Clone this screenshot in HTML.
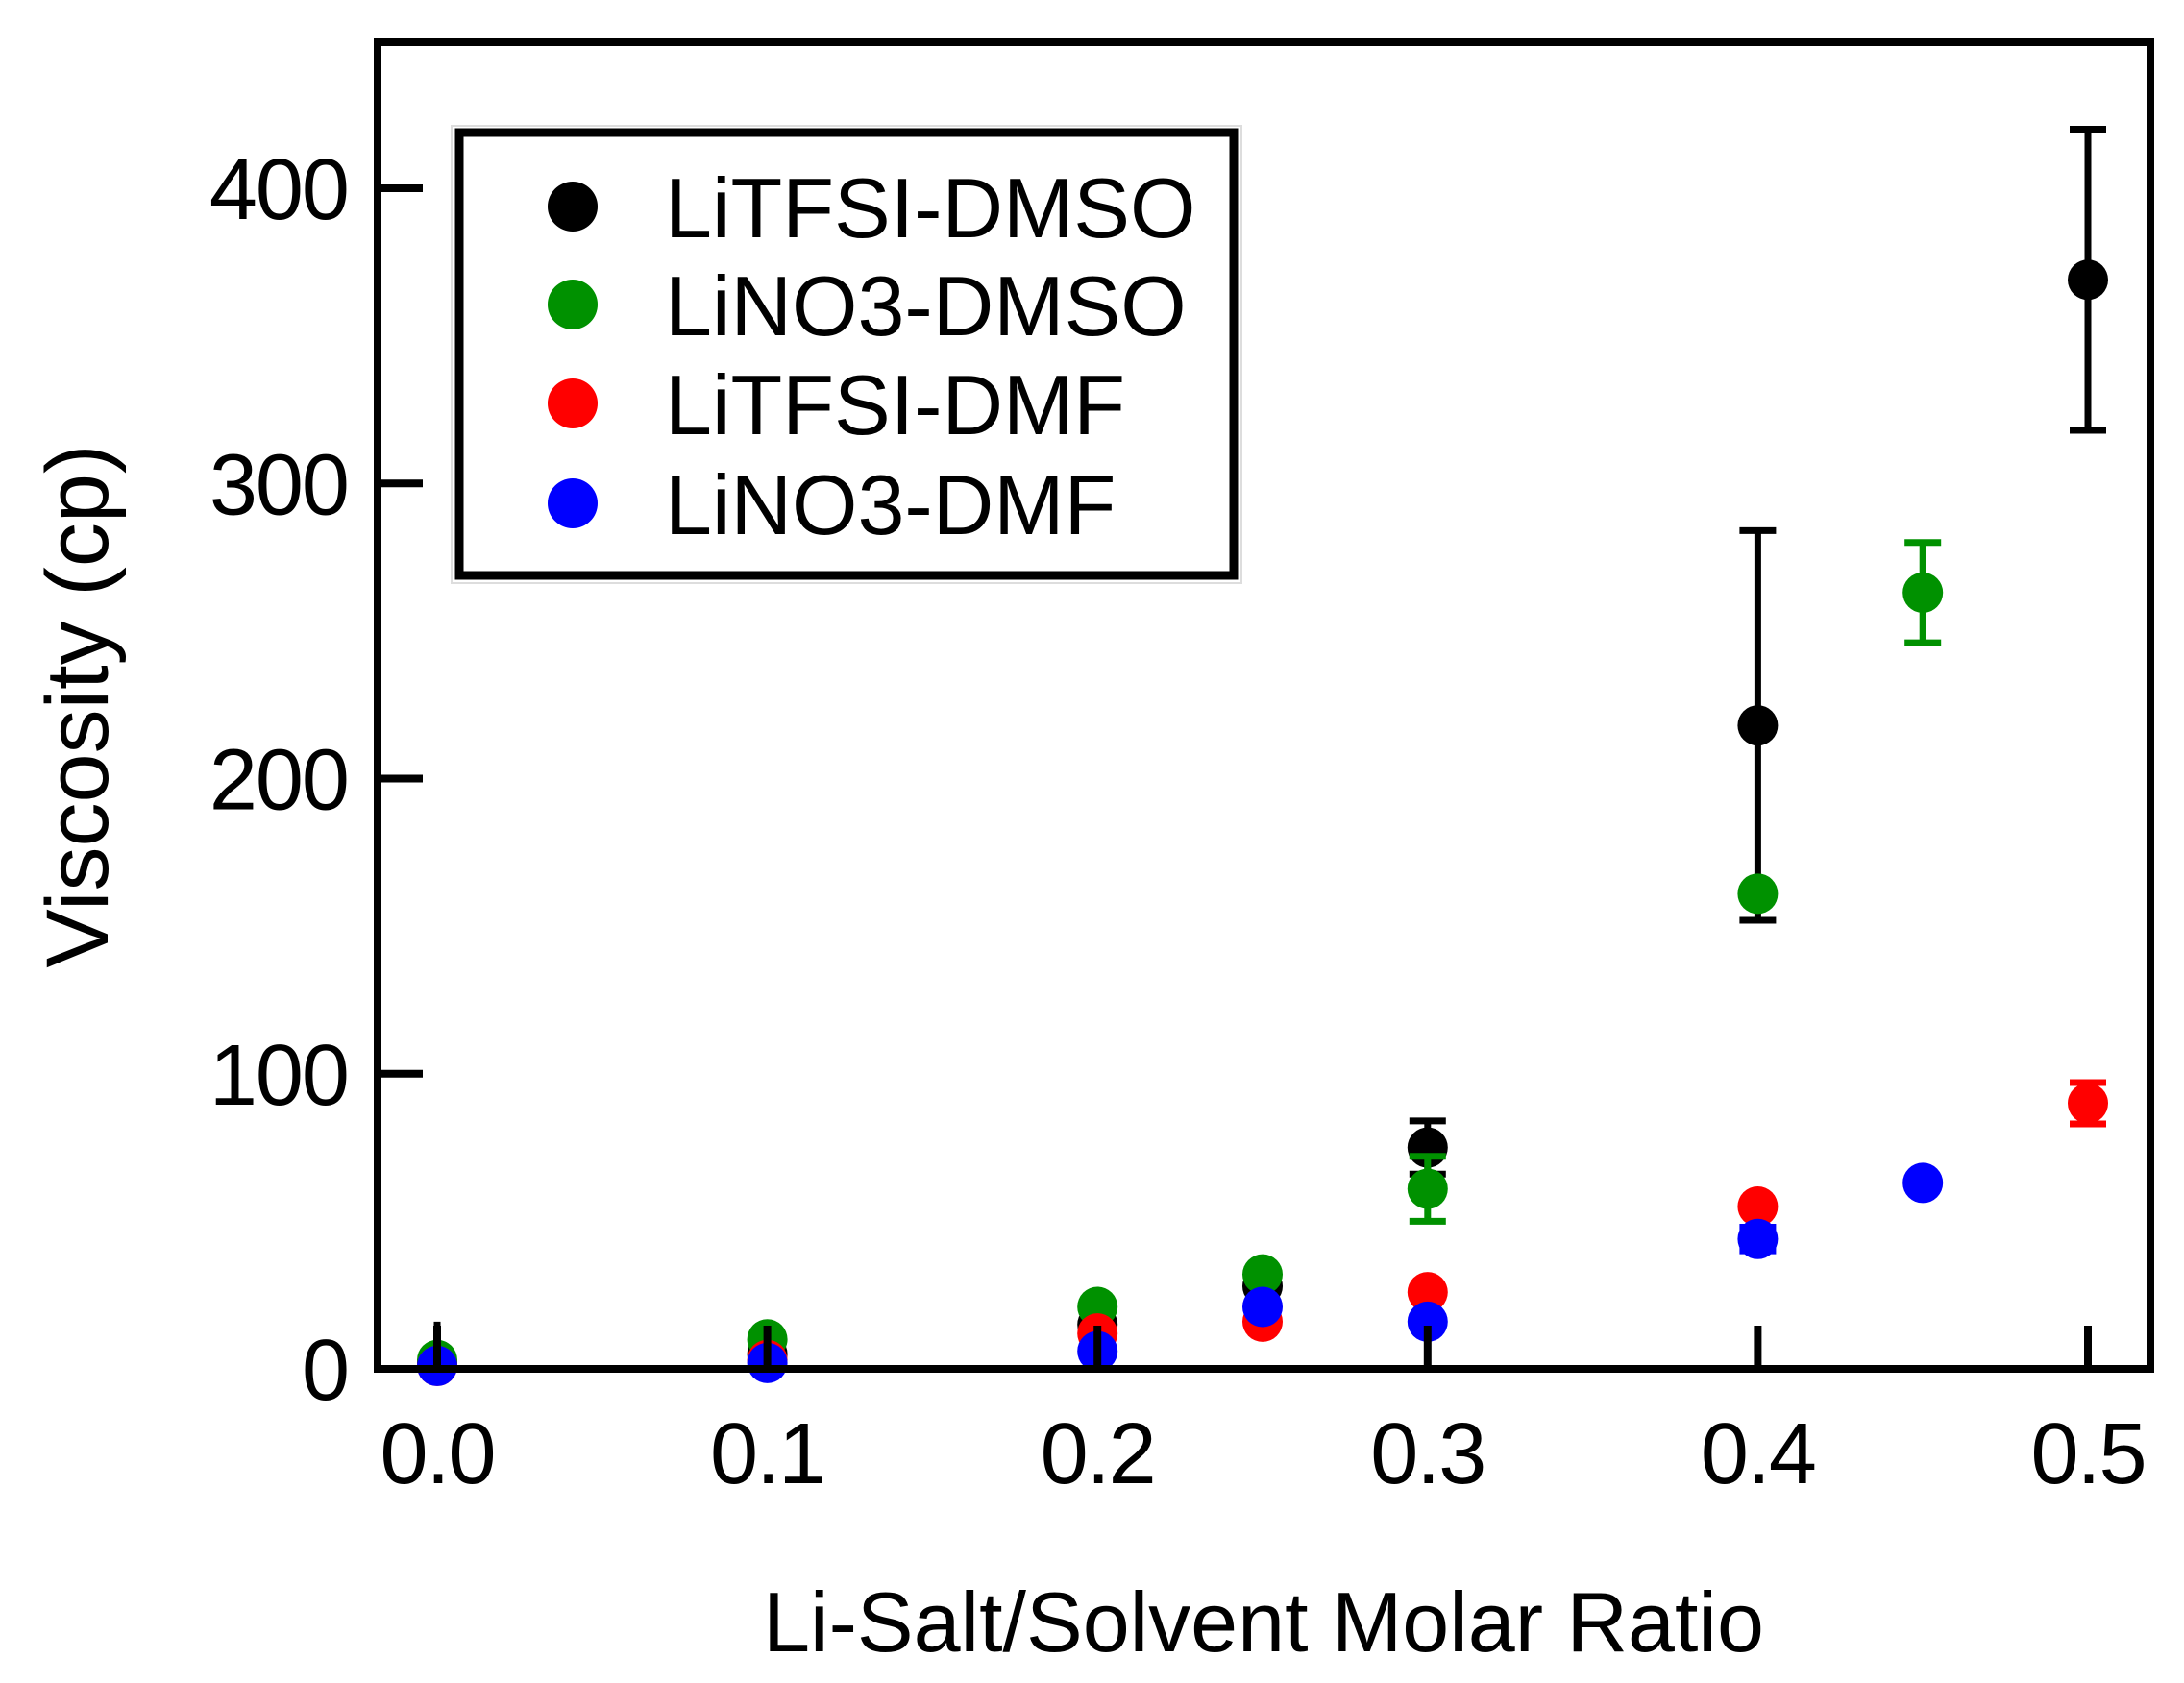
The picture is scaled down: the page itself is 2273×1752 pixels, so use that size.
<!DOCTYPE html>
<html><head><meta charset="utf-8"><style>
html,body{margin:0;padding:0;background:#fff}
svg{display:block}
text{font-family:"Liberation Sans",sans-serif;fill:#000}
</style></head><body>
<svg id="chart" width="2273" height="1752" viewBox="0 0 2273 1752" xmlns="http://www.w3.org/2000/svg">
<g id="marks"></g>
<g id="axes"></g>
</svg>
<script>
const xTicks = [0.0, 0.1, 0.2, 0.3, 0.4, 0.5];
const xTickLabels = ["0.0", "0.1", "0.2", "0.3", "0.4", "0.5"];
const yTicks = [0, 100, 200, 300, 400];
const yTickLabels = ["0", "100", "200", "300", "400"];
const seriesNames = ["LiTFSI-DMSO", "LiNO3-DMSO", "LiTFSI-DMF", "LiNO3-DMF"];
const seriesColors = ["#000000", "#009100", "#ff0000", "#0000ff"];
const xTfsiDmso = [0, 0.1, 0.2, 0.25, 0.3, 0.4, 0.5];
const yTfsiDmso = [2, 5, 15, 28, 75, 218, 369];
const eTfsiDmso = [14, 0, 0, 0, 9, 66, 51];
const xNo3Dmso = [0, 0.1, 0.2, 0.25, 0.3, 0.4, 0.45];
const yNo3Dmso = [3, 10, 21, 32, 61, 161, 263];
const eNo3Dmso = [0, 0, 0, 0, 11, 0, 17];
const xTfsiDmf = [0, 0.1, 0.2, 0.25, 0.3, 0.4, 0.5];
const yTfsiDmf = [1, 3, 12, 16, 26, 55, 90];
const eTfsiDmf = [0, 0, 0, 0, 0, 0, 7];
const xNo3Dmf = [0, 0.1, 0.2, 0.25, 0.3, 0.4, 0.45];
const yNo3Dmf = [1, 2, 6, 21, 16, 44, 63];
const eNo3Dmf = [0, 0, 0, 0, 0, 4, 0];

const NS = "http://www.w3.org/2000/svg";
const L = 393, R = 2238, T = 44, B = 1425;
const X0 = 455, XPER = 3436;
const YPER = 3.0725;
function sx(v){ return X0 + v * XPER; }
function sy(v){ return B - v * YPER; }
function mk(tag, attrs, parent){
  const e = document.createElementNS(NS, tag);
  for (const k in attrs) e.setAttribute(k, attrs[k]);
  parent.appendChild(e);
  return e;
}
const marks = document.getElementById('marks');
const axes = document.getElementById('axes');

const seriesX = [xTfsiDmso, xNo3Dmso, xTfsiDmf, xNo3Dmf];
const seriesY = [yTfsiDmso, yNo3Dmso, yTfsiDmf, yNo3Dmf];
const seriesE = [eTfsiDmso, eNo3Dmso, eTfsiDmf, eNo3Dmf];
const slug = ["litfsi-dmso", "lino3-dmso", "litfsi-dmf", "lino3-dmf"];

seriesX.forEach((xs, s) => {
  const g = mk('g', {}, marks);
  
  
  xs.forEach((xv, i) => {
    const cx = sx(xv), cy = sy(seriesY[s][i]), e = seriesE[s][i];
    if (e > 0) {
      const eb = mk('g', {stroke: seriesColors[s], 'stroke-width': 7}, g);
      
      
      const top = sy(seriesY[s][i] + e), bot = sy(Math.max(0, seriesY[s][i] - e));
      mk('line', {x1: cx, y1: top, x2: cx, y2: bot}, eb);
      if (seriesY[s][i] - e > 0) {
        mk('line', {x1: cx - 19, y1: top, x2: cx + 19, y2: top}, eb);
        mk('line', {x1: cx - 19, y1: bot, x2: cx + 19, y2: bot}, eb);
      }
    }
    const c = mk('circle', {cx: cx, cy: cy, r: 21, fill: seriesColors[s]}, g);
    
    
  });
});

const frame = mk('rect', {x: L, y: T, width: R - L, height: B - T, fill: 'none', stroke: '#000', 'stroke-width': 8}, axes);



yTicks.forEach((v, i) => {
  const t = mk('line', {x1: L, y1: sy(v), x2: L + 47, y2: sy(v), stroke: '#000', 'stroke-width': 8}, axes);
  
  
  const lb = mk('text', {x: 362, y: sy(v) + 32, 'font-size': 90, 'text-anchor': 'end', 'letter-spacing': -2}, axes);
  lb.textContent = yTickLabels[i];
  
  
});
xTicks.forEach((v, i) => {
  const t = mk('line', {x1: sx(v), y1: B, x2: sx(v), y2: B - 45, stroke: '#000', 'stroke-width': 8}, axes);
  
  
  const lb = mk('text', {x: sx(v), y: 1544, 'font-size': 90, 'text-anchor': 'middle', 'letter-spacing': -2}, axes);
  lb.textContent = xTickLabels[i];
  
  
});

const xt = mk('text', {x: 1315, y: 1719, 'font-size': 88, 'text-anchor': 'middle'}, axes);
xt.textContent = 'Li-Salt/Solvent Molar Ratio';


const yt = mk('text', {x: 0, y: 0, 'font-size': 92, 'text-anchor': 'middle', transform: 'translate(112 735) rotate(-90)'}, axes);
yt.textContent = 'Viscosity (cp)';



const lg = mk('g', {}, axes);


mk('rect', {x: 470, y: 131, width: 822, height: 476, fill: '#fff', stroke: '#ddd', 'stroke-width': 2}, lg);
mk('rect', {x: 478, y: 138, width: 806, height: 461, fill: '#fff', stroke: '#000', 'stroke-width': 9}, lg);
const legY = [215, 317, 420, 524];
seriesNames.forEach((n, i) => {
  const en = mk('g', {}, lg);
  
  
  mk('circle', {cx: 596, cy: legY[i], r: 26, fill: seriesColors[i]}, en);
  const t = mk('text', {x: 692, y: legY[i] + 32, 'font-size': 88}, en);
  t.textContent = n;
});
</script>
</body></html>
